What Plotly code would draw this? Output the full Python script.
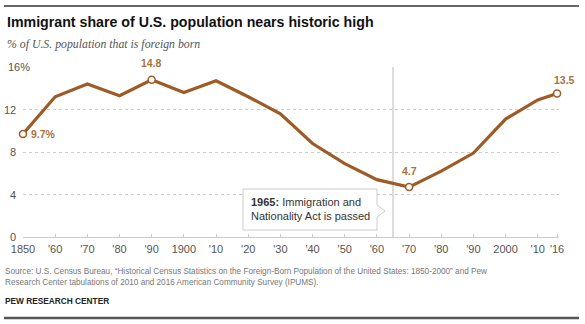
import plotly.graph_objects as go

# Census years and the foreign-born share of the U.S. population (%)
years = [1850, 1860, 1870, 1880, 1890, 1900, 1910, 1920, 1930, 1940,
         1950, 1960, 1970, 1980, 1990, 2000, 2010, 2016]
share = [9.7, 13.2, 14.4, 13.3, 14.8, 13.6, 14.7, 13.2, 11.6, 8.8,
         6.9, 5.4, 4.7, 6.2, 7.9, 11.1, 12.9, 13.5]

x_tick_vals = [1850, 1860, 1870, 1880, 1890, 1900, 1910, 1920, 1930, 1940,
               1950, 1960, 1970, 1980, 1990, 2000, 2010, 2016]
x_tick_text = ["1850", "'60", "'70", "'80", "'90", "1900", "'10", "'20", "'30",
               "'40", "'50", "'60", "'70", "'80", "'90", "2000", "'10", "'16"]
y_tick_vals = [0, 4, 8, 12, 16]
y_tick_text = ["0", "4", "8", "12", "16%"]

# Highlighted points with their labels
hl_years = [1850, 1890, 1970, 2016]
hl_values = [9.7, 14.8, 4.7, 13.5]
hl_text = ["9.7%", "14.8", "4.7", "13.5"]

LINE = "#9e5b26"
LABEL = "#a8743c"

W, H = 585, 324
L, R, T, B = 23, 26, 67, 87
PW, PH = W - L - R, H - T - B


def px(x):
    return (x - L) / PW


def py(y):
    return (H - B - y) / PH


fig = go.Figure()

fig.add_trace(go.Scatter(
    x=years, y=share, mode="lines",
    line=dict(color=LINE, width=3.2, shape="linear"),
    hoverinfo="skip", showlegend=False, cliponaxis=False,
))
fig.add_trace(go.Scatter(
    x=hl_years, y=hl_values, mode="markers",
    marker=dict(size=7, color="white", line=dict(color=LINE, width=1.5)),
    hoverinfo="skip", showlegend=False, cliponaxis=False,
))

annotations = []

# y-axis labels: numbers right-aligned, the top one ("16%") left-aligned
for v, t in zip(y_tick_vals, y_tick_text):
    top = t.endswith("%")
    annotations.append(dict(
        x=px(6) if top else 0, y=v, xref="paper", yref="y", text=t,
        showarrow=False, xanchor="left" if top else "right", yanchor="middle",
        xshift=0 if top else -5,
        font=dict(family="Liberation Sans, Arial", size=11, color="#555555"),
    ))

# point labels
shifts = [(6, 0, "left", "middle"), (0, 9, "center", "bottom"),
          (0, 8, "center", "bottom"), (7, 6, "center", "bottom")]
for xv, yv, t, (dx, dy, xa, ya) in zip(hl_years, hl_values, hl_text, shifts):
    annotations.append(dict(
        x=xv, y=yv, xref="x", yref="y", text="<b>" + t + "</b>",
        showarrow=False, xanchor=xa, yanchor=ya, xshift=dx, yshift=dy,
        font=dict(family="Liberation Sans, Arial", size=10.5, color=LABEL),
    ))

# title, subtitle, source notes
annotations += [
    dict(x=px(5), y=py(22), xref="paper", yref="paper",
         text="<b>Immigrant share of U.S. population nears historic high</b>",
         showarrow=False, xanchor="left", yanchor="middle",
         font=dict(family="Liberation Sans, Arial", size=14.2, color="#111111")),
    dict(x=px(5), y=py(44), xref="paper", yref="paper",
         text="<i>% of U.S. population that is foreign born</i>",
         showarrow=False, xanchor="left", yanchor="middle",
         font=dict(family="Liberation Serif, DejaVu Serif", size=11.8,
                   color="#555555")),
    dict(x=px(3), y=py(277), xref="paper", yref="paper",
         text="Source: U.S. Census Bureau, \u201cHistorical Census Statistics on the "
              "Foreign-Born Population of the United States: 1850-2000\u201d and Pew"
              "<br>Research Center tabulations of 2010 and 2016 American Community "
              "Survey (IPUMS).",
         showarrow=False, xanchor="left", yanchor="middle", align="left",
         font=dict(family="Liberation Sans, Arial", size=8.2, color="#777777")),
    dict(x=px(3), y=py(301), xref="paper", yref="paper",
         text="<b>PEW RESEARCH CENTER</b>",
         showarrow=False, xanchor="left", yanchor="middle",
         font=dict(family="Liberation Sans, Arial", size=8.3, color="#222222")),
    dict(x=px(249), y=py(209), xref="paper", yref="paper",
         text="<b>1965:</b> Immigration and<br>Nationality Act is passed",
         showarrow=False, xanchor="left", yanchor="middle", align="left",
         font=dict(family="Liberation Sans, Arial", size=11, color="#333333")),
]

shapes = [
    # top and bottom rules
    dict(type="line", xref="paper", yref="paper", x0=px(4), x1=px(579),
         y0=py(6), y1=py(6), line=dict(color="#666666", width=2)),
    dict(type="line", xref="paper", yref="paper", x0=px(4), x1=px(579),
         y0=py(318), y1=py(318), line=dict(color="#555555", width=2.5)),
    # 1965 marker line
    dict(type="line", xref="x", yref="y", x0=1965, x1=1965, y0=0, y1=16.1,
         line=dict(color="#bbbbbb", width=1), layer="below"),
    # callout box with a pointer on its right side
    dict(type="path", xref="paper", yref="paper",
         path=(f"M {px(243)},{py(189)} L {px(377)},{py(189)} "
               f"L {px(377)},{py(205)} L {px(385)},{py(211)} "
               f"L {px(377)},{py(217)} L {px(377)},{py(230)} "
               f"L {px(243)},{py(230)} Z"),
         fillcolor="white", line=dict(color="#cccccc", width=1)),
]

fig.update_layout(
    width=W, height=H,
    margin=dict(l=L, r=R, t=T, b=B),
    paper_bgcolor="white", plot_bgcolor="white",
    annotations=annotations, shapes=shapes,
    xaxis=dict(
        range=[1850, 2016.6], tickvals=x_tick_vals, ticktext=x_tick_text,
        showgrid=False, zeroline=False, showline=True,
        linecolor="#cccccc", linewidth=1,
        ticks="inside", ticklen=3, tickcolor="#cccccc",
        ticklabelstandoff=2,
        tickfont=dict(family="Liberation Sans, Arial", size=11, color="#555555"),
        fixedrange=True,
    ),
    yaxis=dict(
        range=[0, 16], tickvals=y_tick_vals, showticklabels=False,
        showgrid=True, gridcolor="#cccccc", griddash="dot", gridwidth=1,
        zeroline=False, showline=False, fixedrange=True,
    ),
)

fig.write_html("out.html")
